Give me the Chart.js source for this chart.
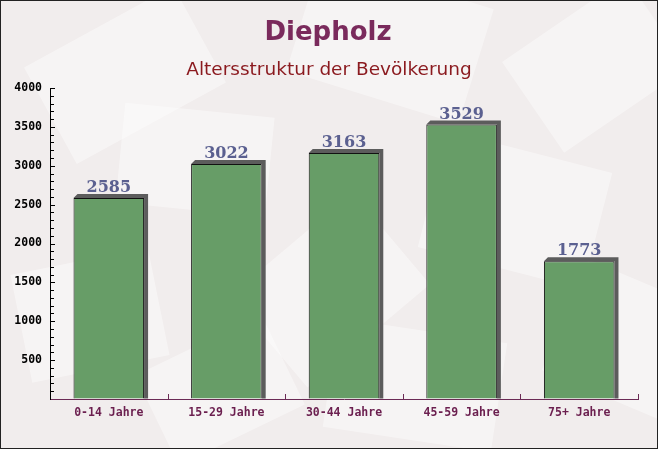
<!DOCTYPE html>
<html>
<head>
<meta charset="utf-8">
<script src="https://cdn.jsdelivr.net/npm/chart.js@4/dist/chart.umd.min.js"></script>
<style>
  html, body { margin: 0; padding: 0; background: #f3f0f0; }
  canvas { display: block; }
</style>
</head>
<body>
<canvas id="ageChart" width="658" height="449"></canvas>
<script>
// data
const categories = ['0-14 Jahre', '15-29 Jahre', '30-44 Jahre', '45-59 Jahre', '75+ Jahre'];
const population = [2585, 3022, 3163, 3529, 1773];
const yMax = 4000;
const yStep = 500;
const yMinorStep = 100;

const chartTitle = 'Diepholz';
const chartSubtitle = 'Altersstruktur der Bevölkerung';

// faint "envelope" shapes in the background: [x, y, w, h, angle]
const bgShapes = [
    [40, 20, 170, 110, -0.5], [300, -20, 180, 120, 0.3], [520, 10, 150, 110, -0.6],
    [120, 110, 150, 100, 0.1], [430, 150, 170, 120, 0.25], [250, 230, 160, 120, -0.7],
    [20, 260, 140, 110, -0.2], [560, 280, 130, 120, 0.4], [330, 330, 170, 110, 0.15],
    [150, 340, 140, 100, -0.45]
];

const depth = 4; // 3d side of the bars

const decorPlugin = {
    id: 'decor',
    beforeDraw(chart) {
        const ctx = chart.ctx;
        ctx.save();
        ctx.fillStyle = '#f1eded';
        ctx.fillRect(0, 0, chart.width, chart.height);
        bgShapes.forEach(s => {
            ctx.save();
            ctx.translate(s[0] + s[2] / 2, s[1] + s[3] / 2);
            ctx.rotate(s[4]);
            ctx.fillStyle = 'rgba(255,255,255,0.4)';
            ctx.fillRect(-s[2] / 2, -s[3] / 2, s[2], s[3]);
            ctx.restore();
        });
        ctx.restore();
    },
    beforeDatasetsDraw(chart) {
        // dark top and right side of each bar
        const ctx = chart.ctx;
        const meta = chart.getDatasetMeta(0);
        ctx.save();
        meta.data.forEach(bar => {
            const left = bar.x - bar.width / 2;
            const right = bar.x + bar.width / 2;
            ctx.fillStyle = '#5c5c5c';
            ctx.beginPath();
            ctx.moveTo(left, bar.y);
            ctx.lineTo(left + depth, bar.y - depth);
            ctx.lineTo(right + depth, bar.y - depth);
            ctx.lineTo(right + depth, bar.base);
            ctx.lineTo(right, bar.base);
            ctx.lineTo(right, bar.y);
            ctx.closePath();
            ctx.fill();
        });
        ctx.restore();
    },
    afterDatasetsDraw(chart) {
        const ctx = chart.ctx;
        const meta = chart.getDatasetMeta(0);
        const xs = chart.scales.x;
        const ys = chart.scales.y;
        const area = chart.chartArea;
        ctx.save();

        // value labels
        ctx.font = 'bold 16px "DejaVu Serif"';
        ctx.fillStyle = '#5b6090';
        ctx.textAlign = 'center';
        ctx.textBaseline = 'alphabetic';
        meta.data.forEach((bar, i) => {
            ctx.fillText(String(population[i]), bar.x, bar.y - 6);
        });

        // y ticks on the inside of the axis
        ctx.strokeStyle = '#000';
        ctx.lineWidth = 1;
        for (let v = yMinorStep; v <= yMax; v += yMinorStep) {
            const y = Math.round(ys.getPixelForValue(v)) + 0.5;
            const len = v % yStep === 0 ? 5 : 4;
            ctx.beginPath();
            ctx.moveTo(area.left, y);
            ctx.lineTo(area.left + len, y);
            ctx.stroke();
        }

        // x ticks at the category boundaries, pointing up
        ctx.strokeStyle = '#6b2a55';
        const half = (xs.getPixelForValue(1) - xs.getPixelForValue(0)) / 2;
        for (let i = 0; i < categories.length; i++) {
            const x = Math.round(xs.getPixelForValue(i) + half) + 0.5;
            ctx.beginPath();
            ctx.moveTo(x, area.bottom);
            ctx.lineTo(x, area.bottom - 5);
            ctx.stroke();
        }
        ctx.restore();
    },
    afterDraw(chart) {
        const ctx = chart.ctx;
        ctx.save();
        ctx.textAlign = 'center';
        ctx.textBaseline = 'alphabetic';
        ctx.fillStyle = '#7a2a5c';
        ctx.font = 'bold 26px "DejaVu Sans"';
        ctx.fillText(chartTitle, chart.width / 2 - 1, 40);
        ctx.fillStyle = '#8b1a1f';
        ctx.font = '18.5px "DejaVu Sans"';
        ctx.fillText(chartSubtitle, chart.width / 2, 75);

        // frame
        ctx.strokeStyle = '#222';
        ctx.lineWidth = 1;
        ctx.strokeRect(0.5, 0.5, chart.width - 1, chart.height - 1);
        ctx.restore();
    }
};

new Chart(document.getElementById('ageChart'), {
    type: 'bar',
    data: {
        labels: categories,
        datasets: [{
            data: population,
            backgroundColor: '#679d67',
            borderColor: '#111',
            borderWidth: { left: 1, top: 1, right: 1, bottom: 0 },
            borderSkipped: false,
            categoryPercentage: 1,
            barPercentage: 0.6
        }]
    },
    options: {
        responsive: false,
        animation: false,
        layout: { padding: { top: 88, right: 20, left: 0, bottom: 0 } },
        plugins: {
            legend: { display: false },
            tooltip: { enabled: false }
        },
        scales: {
            x: {
                afterFit(scale) { scale.height = 50; },
                grid: { display: true, drawOnChartArea: false, drawTicks: false },
                border: { display: true, color: '#6b2a55', width: 1 },
                ticks: {
                    color: '#6b1f4f',
                    padding: 7,
                    font: { family: '"DejaVu Sans Mono"', size: 11.5, weight: 'bold' }
                }
            },
            y: {
                min: 0,
                max: yMax,
                afterFit(scale) { scale.width = 50; },
                grid: { display: true, drawOnChartArea: false, drawTicks: false },
                border: { display: true, color: '#000', width: 1 },
                ticks: {
                    stepSize: yStep,
                    color: '#000',
                    padding: 8,
                    font: { family: '"DejaVu Sans Mono"', size: 11.5, weight: 'bold' },
                    callback: v => (v === 0 ? '' : v)
                }
            }
        }
    },
    plugins: [decorPlugin]
});
</script>
</body>
</html>
